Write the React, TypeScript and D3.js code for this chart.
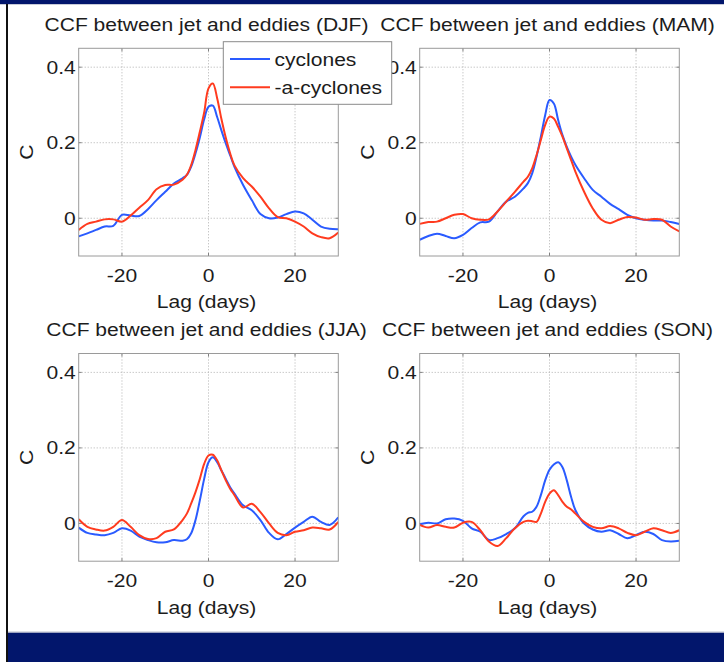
import React from 'react';
import * as d3 from 'd3';

// ---------- data ----------
const lags = [-30, -28, -26, -24, -22, -20, -18, -16, -14, -12, -10, -8, -6, -5, -4, -3, -2, -1, 0, 1, 2, 3, 4, 5, 6, 8, 10, 12, 14, 16, 18, 20, 22, 24, 26, 28, 30];

const djfCyclones = [-0.048, -0.04, -0.031, -0.022, -0.02, 0.009, 0.007, 0.006, 0.024, 0.048, 0.07, 0.092, 0.106, 0.115, 0.137, 0.172, 0.214, 0.262, 0.295, 0.298, 0.268, 0.232, 0.198, 0.167, 0.136, 0.088, 0.048, 0.011, 0.0, 0.002, 0.011, 0.018, 0.013, -0.004, -0.022, -0.028, -0.029];
const djfAnti = [-0.031, -0.015, -0.009, -0.003, -0.003, -0.009, 0.007, 0.028, 0.048, 0.077, 0.088, 0.089, 0.102, 0.115, 0.141, 0.181, 0.229, 0.28, 0.344, 0.357, 0.318, 0.262, 0.213, 0.172, 0.14, 0.106, 0.084, 0.057, 0.026, 0.003, 0.0, -0.009, -0.022, -0.04, -0.05, -0.053, -0.038];

const mamCyclones = [-0.057, -0.047, -0.041, -0.047, -0.053, -0.044, -0.026, -0.011, -0.009, 0.018, 0.044, 0.057, 0.079, 0.093, 0.119, 0.163, 0.216, 0.273, 0.313, 0.304, 0.26, 0.22, 0.189, 0.163, 0.141, 0.106, 0.075, 0.057, 0.038, 0.024, 0.009, 0.0, -0.004, -0.006, -0.006, -0.01, -0.015];
const mamAnti = [-0.015, -0.01, -0.009, 0.0, 0.009, 0.011, 0.0, -0.004, -0.003, 0.018, 0.044, 0.07, 0.097, 0.11, 0.132, 0.167, 0.207, 0.247, 0.269, 0.264, 0.242, 0.216, 0.185, 0.154, 0.123, 0.07, 0.026, -0.004, -0.013, -0.004, 0.003, 0.002, -0.004, -0.002, -0.004, -0.022, -0.035];

const jjaCyclones = [-0.011, -0.025, -0.029, -0.031, -0.025, -0.013, -0.019, -0.035, -0.044, -0.05, -0.05, -0.044, -0.046, -0.042, -0.026, 0.009, 0.061, 0.118, 0.162, 0.175, 0.162, 0.14, 0.118, 0.096, 0.079, 0.048, 0.035, 0.009, -0.025, -0.042, -0.028, -0.011, 0.004, 0.018, 0.004, -0.004, 0.016];
const jjaAnti = [0.011, -0.009, -0.016, -0.019, -0.009, 0.009, -0.009, -0.031, -0.041, -0.039, -0.022, -0.016, 0.009, 0.026, 0.053, 0.083, 0.118, 0.158, 0.18, 0.182, 0.167, 0.14, 0.114, 0.092, 0.075, 0.042, 0.052, 0.03, 0.0, -0.025, -0.031, -0.022, -0.018, -0.011, -0.013, -0.016, 0.004];

const sonCyclones = [-0.002, 0.002, 0.0, 0.011, 0.013, 0.007, -0.013, -0.022, -0.044, -0.039, -0.028, -0.013, 0.019, 0.028, 0.031, 0.044, 0.075, 0.114, 0.142, 0.156, 0.162, 0.149, 0.114, 0.07, 0.035, 0.0, -0.016, -0.022, -0.018, -0.028, -0.039, -0.031, -0.022, -0.028, -0.044, -0.048, -0.046];
const sonAnti = [-0.004, -0.011, -0.004, -0.009, -0.011, 0.002, 0.004, -0.018, -0.048, -0.06, -0.039, -0.013, 0.004, 0.007, 0.006, 0.004, 0.026, 0.057, 0.079, 0.088, 0.075, 0.057, 0.044, 0.037, 0.026, 0.004, -0.009, -0.013, -0.007, -0.013, -0.025, -0.031, -0.022, -0.013, -0.018, -0.025, -0.018];

const seasons = ['DJF', 'MAM', 'JJA', 'SON'];
const cyclonesBySeason = [djfCyclones, mamCyclones, jjaCyclones, sonCyclones];
const antiBySeason = [djfAnti, mamAnti, jjaAnti, sonAnti];
const seriesNames = ['cyclones', '-a-cyclones'];
const xTicks = [-20, 0, 20];
const yTicks = [0, 0.2, 0.4];
const yTickLabels = ['0', '0.2', '0.4'];
const xLabel = 'Lag (days)';
const yLabel = 'C';
const titlePrefix = 'CCF between jet and eddies';

// ---------- style ----------
const W = 724;
const H = 662;
const BLUE = '#2a5bff';
const RED = '#ff3b1f';
const NAVY = '#02166c';
const FONT = "'Liberation Sans', Arial, Helvetica, sans-serif";
const SX = 1.15;
const FS = 18.3;
const TXT = '#1c1c1c';

const PW = 259.6;
const PH = 207.7;
const origins = [
  [78.7, 48.3],
  [419.7, 48.3],
  [78.7, 353.5],
  [419.7, 353.5],
];

function T({ x, y, anchor = 'start', size = FS, rotate = 0, children }: any) {
  return (
    <text
      transform={`translate(${x},${y}) rotate(${rotate}) scale(${SX},1)`}
      textAnchor={anchor}
      fontSize={size}
      fontFamily={FONT}
      fill={TXT}
    >
      {children}
    </text>
  );
}

function Panel({ idx }: { idx: number }) {
  const [ox, oy] = origins[idx];
  const x = d3.scaleLinear().domain([-30, 30]).range([0, PW]);
  const y = d3.scaleLinear().domain([-0.1, 0.45]).range([PH, 0]);
  const line = d3
    .line<number>()
    .x((_, i) => x(lags[i]))
    .y((d) => y(d))
    .curve(d3.curveCatmullRom.alpha(0.5));
  const clipId = `clip${idx}`;
  const tickLen = 3;
  return (
    <g>
      <T x={ox + PW / 2 - 2} y={oy - 17.3} anchor="middle">{`${titlePrefix} (${seasons[idx]})`}</T>
      <g transform={`translate(${ox},${oy})`}>
        <defs>
          <clipPath id={clipId}>
            <rect x={0} y={0} width={PW} height={PH} />
          </clipPath>
        </defs>
        <rect x={0} y={0} width={PW} height={PH} fill="#fff" />
        {xTicks.map((t) => (
          <line key={'gx' + t} x1={x(t)} x2={x(t)} y1={0} y2={PH} stroke="#b0b0b0" strokeWidth={1} strokeDasharray="1,2" />
        ))}
        {yTicks.map((t) => (
          <line key={'gy' + t} x1={0} x2={PW} y1={y(t)} y2={y(t)} stroke="#b0b0b0" strokeWidth={1} strokeDasharray="1,2" />
        ))}
        {xTicks.map((t) => (
          <g key={'tx' + t} stroke="#808080" strokeWidth={1}>
            <line x1={x(t)} x2={x(t)} y1={PH} y2={PH - tickLen} />
            <line x1={x(t)} x2={x(t)} y1={0} y2={tickLen} />
          </g>
        ))}
        {yTicks.map((t) => (
          <g key={'ty' + t} stroke="#808080" strokeWidth={1}>
            <line x1={0} x2={tickLen} y1={y(t)} y2={y(t)} />
            <line x1={PW} x2={PW - tickLen} y1={y(t)} y2={y(t)} />
          </g>
        ))}
        <g clipPath={`url(#${clipId})`}>
          <path d={line(cyclonesBySeason[idx]) || ''} fill="none" stroke={BLUE} strokeWidth={2} strokeLinejoin="round" />
          <path d={line(antiBySeason[idx]) || ''} fill="none" stroke={RED} strokeWidth={2} strokeLinejoin="round" />
        </g>
        <rect x={0} y={0} width={PW} height={PH} fill="none" stroke="#9a9a9a" strokeWidth={1} />
        {yTicks.map((t, i) => (
          <T key={'ly' + t} x={-3} y={y(t) + 6.5} anchor="end">{yTickLabels[i]}</T>
        ))}
        {xTicks.map((t) => (
          <T key={'lx' + t} x={x(t)} y={PH + 25.7} anchor="middle">{String(t)}</T>
        ))}
        <T x={PW / 2 - 2} y={PH + 52.3} anchor="middle">{xLabel}</T>
        <T x={-45.5} y={PH / 2} anchor="middle" rotate={-90}>{yLabel}</T>
      </g>
    </g>
  );
}

function Legend() {
  const lx = 223.3;
  const ly = 41.7;
  const colors = [BLUE, RED];
  const rows = [59, 87.3];
  return (
    <g>
      <rect x={lx} y={ly} width={168.4} height={62.6} fill="#fff" stroke="#8a8a8a" strokeWidth={1} />
      {seriesNames.map((n, i) => (
        <g key={n}>
          <line x1={230} x2={270} y1={rows[i]} y2={rows[i]} stroke={colors[i]} strokeWidth={2} />
          <T x={274.5} y={rows[i] + 6.6}>{n}</T>
        </g>
      ))}
    </g>
  );
}

export default function App() {
  return (
    <svg
      width={W}
      height={H}
      style={{ position: 'absolute', left: 0, top: 0, display: 'block' }}
      xmlns="http://www.w3.org/2000/svg"
    >
      <rect x={0} y={0} width={W} height={H} fill="#fff" />
      {[0, 1, 2, 3].map((i) => (
        <Panel key={i} idx={i} />
      ))}
      <Legend />
      <rect x={0} y={0} width={W} height={4} fill={NAVY} />
      <line x1={0} x2={W} y1={4.5} y2={4.5} stroke="#c8cbd8" strokeWidth={1} />
      <rect x={8} y={632.5} width={W - 8} height={H - 632.5} fill={NAVY} />
      <line x1={8} x2={W} y1={632} y2={632} stroke="#b8bccb" strokeWidth={1} />
      <line x1={7} x2={7} y1={4} y2={H} stroke="#111" strokeWidth={2} />
    </svg>
  );
}
